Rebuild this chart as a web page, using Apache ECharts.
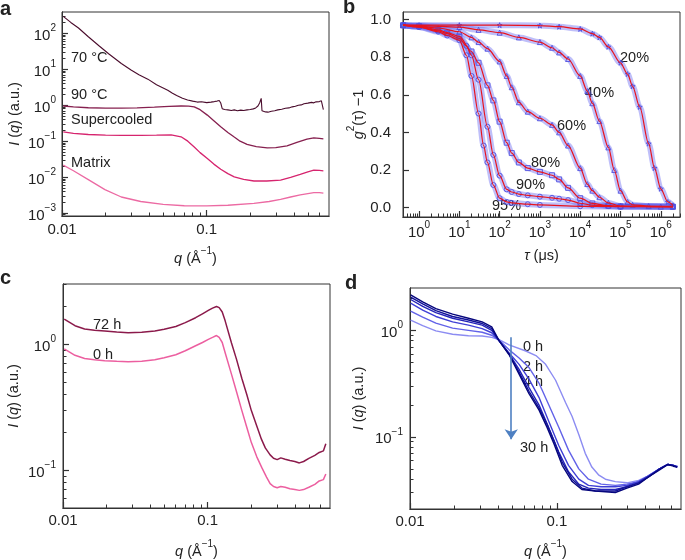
<!DOCTYPE html>
<html>
<head>
<meta charset="utf-8">
<script src="https://cdn.jsdelivr.net/npm/echarts@6/dist/echarts.min.js"></script>
<style>
  html, body { margin: 0; padding: 0; background: #fff; }
  #chart { width: 685px; height: 560px; }
</style>
</head>
<body>
<div id="chart"></div>
<script>
// ---------- panel a : I(q) of the four states ----------
const aTicksX = [0.01, 0.1];
const aTicksY = [1e-3, 1e-2, 1e-1, 1, 10, 100];
const a70 = [[0.0102,296],[0.0115,200],[0.013,140],[0.0152,80],[0.018,45],[0.021,27],[0.0257,14.4],[0.03,9.5],
  [0.034,7.0],[0.0392,5.3],[0.045,3.7],[0.0538,2.6],[0.058,2.15],[0.062,1.85],[0.068,1.55],[0.0738,1.4],
  [0.08,1.3],[0.086,1.22],[0.092,1.25],[0.1,1.18],[0.107,1.22],[0.113,1.26],[0.118,1.3],[0.122,1.35],
  [0.125,1.15],[0.128,0.8],[0.133,0.76],[0.14,0.74],[0.148,0.71],[0.155,0.74],[0.163,0.7],[0.172,0.73],
  [0.18,0.71],[0.19,0.74],[0.2,0.76],[0.21,0.79],[0.218,0.84],[0.226,0.95],[0.232,1.15],[0.238,1.55],
  [0.241,0.7],[0.245,0.63],[0.255,0.65],[0.265,0.64],[0.28,0.68],[0.295,0.7],[0.31,0.74],[0.33,0.77],
  [0.35,0.82],[0.37,0.84],[0.39,0.9],[0.41,0.93],[0.43,1.0],[0.45,1.02],[0.47,1.1],[0.5,1.14],
  [0.53,1.2],[0.55,1.16],[0.57,1.24],[0.6,1.26],[0.62,1.32],[0.635,1.3],[0.64,0.75]];
const a90 = [[0.0102,0.95],[0.012,0.9],[0.0152,0.85],[0.02,0.83],[0.0257,0.83],[0.033,0.84],[0.0435,0.88],
  [0.055,0.93],[0.0665,0.95],[0.075,0.94],[0.082,0.9],[0.09,0.75],[0.101,0.53],[0.112,0.37],[0.125,0.25],
  [0.14,0.175],[0.155,0.13],[0.17,0.1],[0.19,0.081],[0.22,0.07],[0.262,0.065],[0.3,0.066],[0.359,0.074],
  [0.42,0.092],[0.493,0.114],[0.55,0.123],[0.6,0.12],[0.64,0.116]];
const aSuper = [[0.0102,0.18],[0.012,0.165],[0.0152,0.153],[0.02,0.147],[0.0257,0.145],[0.035,0.145],
  [0.045,0.147],[0.0568,0.15],[0.0665,0.132],[0.074,0.1],[0.082,0.069],[0.09,0.048],[0.101,0.033],
  [0.112,0.023],[0.125,0.0166],[0.14,0.0125],[0.155,0.0102],[0.18,0.0086],[0.212,0.0078],[0.26,0.0078],
  [0.324,0.0083],[0.38,0.0098],[0.443,0.0119],[0.5,0.014],[0.55,0.0156],[0.6,0.0155],[0.64,0.015]];
const aMatrix = [[0.0102,0.0215],[0.012,0.015],[0.0152,0.0085],[0.0198,0.0045],[0.0257,0.0028],[0.035,0.0021],
  [0.05,0.00175],[0.07,0.0016],[0.1,0.00158],[0.14,0.00165],[0.212,0.00186],[0.27,0.0021],[0.324,0.0024],
  [0.38,0.0028],[0.443,0.0032],[0.5,0.0035],[0.55,0.0037],[0.6,0.0037],[0.64,0.0036]];

// ---------- panel b : g2(tau)-1 ----------
const bTicksX = [1, 10, 100, 1e3, 1e4, 1e5, 1e6];
const bTicksY = [0, 0.2, 0.4, 0.6, 0.8, 1.0];
const b20 = [[0.4,0.97],[1,0.97],[10,0.97],[100,0.97],[1e3,0.968],[3e3,0.962],[1e4,0.95],[2e4,0.925],[3e4,0.905],
  [5e4,0.855],[1e5,0.77],[1.5e5,0.71],[2e5,0.645],[3e5,0.535],[5e5,0.34],[7e5,0.21],[1e6,0.1],[1.5e6,0.03],[2e6,0.012]];
const b40 = [[0.4,0.97],[1,0.968],[10,0.96],[30,0.945],[100,0.93],[300,0.905],[1e3,0.88],[2e3,0.85],[3e3,0.825],
  [5e3,0.79],[1e4,0.7],[1.5e4,0.62],[2e4,0.555],[3e4,0.46],[5e4,0.32],[7e4,0.2],[1e5,0.09],[1.5e5,0.03],
  [2e5,0.015],[5e5,0.008],[2e6,0.006]];
const b60 = [[0.4,0.97],[1,0.965],[3,0.955],[10,0.935],[20,0.905],[30,0.88],[50,0.845],[100,0.777],[150,0.7],
  [200,0.64],[300,0.56],[500,0.51],[1e3,0.475],[2e3,0.44],[3e3,0.4],[5e3,0.33],[1e4,0.21],[1.5e4,0.125],
  [2e4,0.09],[3e4,0.055],[5e4,0.025],[1e5,0.008],[1e6,0.005],[2e6,0.005]];
const b80 = [[0.4,0.97],[1,0.965],[3,0.945],[5,0.93],[10,0.91],[20,0.83],[30,0.77],[50,0.65],[70,0.57],[100,0.457],
  [150,0.345],[200,0.29],[300,0.24],[500,0.21],[1e3,0.19],[2e3,0.172],[3e3,0.15],[5e3,0.105],[1e4,0.05],
  [2e4,0.022],[5e4,0.01],[1e5,0.006],[2e6,0.005]];
const b90 = [[0.4,0.97],[1,0.96],[3,0.94],[5,0.925],[10,0.9],[15,0.86],[20,0.81],[30,0.68],[50,0.43],[70,0.28],
  [100,0.17],[150,0.097],[200,0.083],[300,0.072],[500,0.065],[1e3,0.058],[2e3,0.052],[3e3,0.047],[5e3,0.04],
  [1e4,0.023],[2e4,0.013],[5e4,0.008],[1e5,0.006],[2e6,0.005]];
const b95 = [[0.4,0.97],[1,0.96],[3,0.935],[5,0.915],[10,0.89],[15,0.81],[20,0.7],[30,0.5],[40,0.33],[50,0.24],
  [70,0.12],[100,0.05],[150,0.03],[200,0.025],[500,0.018],[1e3,0.014],[1e4,0.007],[1e5,0.005],[2e6,0.005]];

// ---------- panel c : ageing ----------
const cTicksX = [0.01, 0.1];
const cTicksY = [0.1, 1];
const c72 = [[0.0102,1.58],[0.0121,1.4],[0.0141,1.32],[0.0165,1.29],[0.0194,1.27],[0.0235,1.245],[0.0282,1.23],
  [0.035,1.24],[0.0431,1.27],[0.05,1.31],[0.0602,1.38],[0.07,1.48],[0.0825,1.62],[0.092,1.74],[0.101,1.85],
  [0.108,1.93],[0.115,1.99],[0.12,1.95],[0.126,1.8],[0.132,1.53],[0.146,1.02],[0.158,0.76],[0.172,0.535],
  [0.186,0.4],[0.2,0.298],[0.218,0.225],[0.235,0.176],[0.25,0.15],[0.27,0.132],[0.285,0.124],[0.302,0.121],
  [0.32,0.125],[0.343,0.122],[0.37,0.119],[0.4,0.117],[0.43,0.114],[0.46,0.117],[0.5,0.124],[0.55,0.131],
  [0.59,0.138],[0.63,0.142],[0.65,0.146],[0.655,0.162]];
const c0 = [[0.0102,0.916],[0.0121,0.815],[0.0141,0.769],[0.0165,0.75],[0.0194,0.738],[0.0235,0.73],[0.0282,0.725],
  [0.035,0.73],[0.0431,0.75],[0.05,0.78],[0.0602,0.824],[0.07,0.885],[0.0825,0.97],[0.092,1.03],[0.101,1.09],
  [0.108,1.13],[0.115,1.17],[0.12,1.13],[0.126,1.03],[0.132,0.854],[0.1466,0.567],[0.158,0.42],[0.172,0.298],
  [0.186,0.22],[0.2,0.166],[0.218,0.128],[0.237,0.104],[0.255,0.088],[0.27,0.078],[0.285,0.074],[0.302,0.0725],
  [0.32,0.074],[0.343,0.073],[0.37,0.071],[0.4,0.07],[0.43,0.069],[0.46,0.07],[0.5,0.073],[0.55,0.077],
  [0.59,0.082],[0.63,0.084],[0.65,0.086],[0.655,0.093]];

// ---------- panel d : 0 h ... 30 h ----------
const dTicksX = [0.01, 0.1];
const dTicksY = [0.1, 1];
const d0h = [[0.0101,1.25],[0.0122,1.11],[0.015,0.99],[0.0195,0.92],[0.025,0.89],[0.031,0.885],[0.036,0.86],
  [0.0404,0.82],[0.0473,0.73],[0.0614,0.64],[0.072,0.58],[0.0838,0.48],[0.098,0.34],[0.1145,0.21],[0.127,0.155],
  [0.141,0.105],[0.156,0.07],[0.173,0.052],[0.192,0.044],[0.214,0.04],[0.25,0.038],[0.3,0.037],[0.36,0.039],
  [0.42,0.043],[0.5,0.05],[0.57,0.055],[0.62,0.054],[0.66,0.053]];
const d2h = [[0.0101,1.52],[0.0122,1.33],[0.015,1.17],[0.0195,1.05],[0.025,1.0],[0.031,0.96],[0.036,0.9],
  [0.0404,0.81],[0.0473,0.656],[0.0553,0.551],[0.0646,0.447],[0.0755,0.32],[0.088,0.2],[0.103,0.123],[0.12,0.075],
  [0.141,0.05],[0.164,0.04],[0.2,0.036],[0.25,0.035],[0.3,0.036],[0.36,0.038],[0.42,0.043],[0.5,0.05],
  [0.57,0.055],[0.62,0.054],[0.66,0.053]];
const d4h = [[0.0101,1.8],[0.0122,1.55],[0.015,1.35],[0.0195,1.2],[0.025,1.12],[0.031,1.04],[0.036,0.95],
  [0.0404,0.8],[0.0473,0.612],[0.0553,0.479],[0.0646,0.349],[0.0755,0.235],[0.088,0.14],[0.103,0.083],[0.12,0.054],
  [0.141,0.04],[0.164,0.035],[0.2,0.034],[0.25,0.034],[0.3,0.035],[0.36,0.038],[0.42,0.043],[0.5,0.05],
  [0.57,0.055],[0.62,0.054],[0.66,0.052]];
const d8h = [[0.0101,1.95],[0.0122,1.68],[0.015,1.47],[0.0195,1.3],[0.025,1.2],[0.031,1.12],[0.036,1.0],
  [0.0404,0.8],[0.0473,0.6],[0.0553,0.43],[0.0646,0.29],[0.0755,0.2],[0.088,0.122],[0.103,0.072],[0.12,0.047],
  [0.141,0.036],[0.164,0.033],[0.2,0.032],[0.25,0.032],[0.3,0.034],[0.36,0.037],[0.42,0.042],[0.5,0.05],
  [0.57,0.055],[0.62,0.054],[0.66,0.052]];
const d16h = [[0.0101,2.05],[0.0122,1.77],[0.015,1.53],[0.0195,1.35],[0.025,1.25],[0.031,1.16],[0.036,1.04],
  [0.0404,0.8],[0.0473,0.6],[0.0553,0.405],[0.0646,0.268],[0.0755,0.188],[0.0859,0.13],[0.0955,0.092],
  [0.1087,0.058],[0.127,0.04],[0.148,0.033],[0.183,0.031],[0.25,0.031],[0.3,0.034],[0.36,0.037],[0.42,0.042],
  [0.5,0.05],[0.57,0.055],[0.62,0.054],[0.66,0.052]];
const d30h = [[0.0101,2.15],[0.0122,1.85],[0.015,1.6],[0.0195,1.42],[0.025,1.3],[0.031,1.2],[0.036,1.08],
  [0.0404,0.8],[0.0473,0.59],[0.0553,0.388],[0.0646,0.254],[0.0755,0.179],[0.0859,0.122],[0.0955,0.086],
  [0.1087,0.054],[0.127,0.038],[0.148,0.032],[0.183,0.031],[0.25,0.03],[0.3,0.033],[0.36,0.036],[0.42,0.042],
  [0.5,0.049],[0.57,0.055],[0.62,0.053],[0.66,0.052]];
const dArrow = [[0.0489, 0.86], [0.0489, 0.095]];

// ---------- helpers ----------
const L = Math.log10;
const FONT = "'Liberation Sans', Arial, Helvetica, sans-serif";
const INK = '#222';
const AX = '#333';

function rich(size) {
  return {
    b: { fontSize: size, lineHeight: 20, verticalAlign: 'bottom', fontFamily: FONT, color: INK },
    i: { fontSize: size, lineHeight: 20, verticalAlign: 'bottom', fontFamily: FONT, color: INK, fontStyle: 'italic' },
    s: { fontSize: Math.round(size * 0.68), lineHeight: 8, verticalAlign: 'top', fontFamily: FONT, color: INK }
  };
}
const sgn = e => (e < 0 ? '−' + (-e) : String(e));
const expFmt = v => '{b|10}{s|' + sgn(Math.round(v)) + '}';
const decFmt = v => { const e = Math.round(v); return e < 0 ? Math.pow(10, e).toFixed(-e) : String(Math.pow(10, e)); };

// minor ticks at 2..9 x 10^n inside [lo, hi]
function minors(lo, hi) {
  const out = [];
  for (let e = Math.floor(L(lo)); e <= Math.ceil(L(hi)); e++) {
    for (let m = 2; m <= 9; m++) {
      const v = m * Math.pow(10, e);
      if (v >= lo && v <= hi) out.push(L(v));
    }
  }
  return out;
}

const xAxes = [];
const yAxes = [];
function addAxis(list, dim, o) {
  const idx = list.length;
  const pos = dim === 'x' ? 'bottom' : 'left';
  list.push({
    type: 'value', gridIndex: o.grid, position: pos, min: o.lo, max: o.hi,
    axisLine: { show: true, onZero: false, lineStyle: { color: AX, width: 1 } },
    axisTick: { show: true, inside: true, length: 6, customValues: o.majors, lineStyle: { color: AX, width: 1.2 } },
    axisLabel: { show: true, customValues: o.majors, formatter: o.fmt, margin: o.margin,
      fontSize: 15, fontFamily: FONT, color: INK, rich: rich(15) },
    splitLine: { show: false },
    name: o.name, nameLocation: 'middle', nameGap: o.gap, nameRotate: dim === 'x' ? 0 : 90,
    nameTextStyle: { fontSize: 14.5, fontFamily: FONT, color: INK, rich: rich(14.5) }
  });
  if (o.minor) {
    list.push({
      type: 'value', gridIndex: o.grid, position: pos, min: o.lo, max: o.hi,
      axisLine: { show: true, onZero: false, lineStyle: { color: AX, width: 1 } },
      axisTick: { show: true, inside: true, length: 3.5, customValues: o.minor, lineStyle: { color: AX, width: 1 } },
      axisLabel: { show: false }, splitLine: { show: false }
    });
  }
  return idx;
}

const qName = '{i|q}{b| (Å}{s|−1}{b|)}';
const iName = '{i|I}{b| (}{i|q}{b|) (a.u.)}';

// grids (pixel boxes)
const grids = [
  { left: 62, top: 12, width: 267, height: 204 },
  { left: 403, top: 12, width: 277, height: 205 },
  { left: 63, top: 284, width: 267, height: 232 },
  { left: 410, top: 288, width: 271, height: 228 }
].map(g => Object.assign(g, { show: true, borderColor: AX, borderWidth: 1 }));

// axes
const axA = addAxis(xAxes, 'x', { grid: 0, lo: L(0.01), hi: L(0.7), majors: aTicksX.map(L), minor: minors(0.01, 0.7),
  fmt: decFmt, margin: 6, name: qName, gap: 30 });
const ayA = addAxis(yAxes, 'y', { grid: 0, lo: L(8.3e-4), hi: L(390), majors: aTicksY.map(L), minor: minors(8.3e-4, 390),
  fmt: expFmt, margin: 6, name: iName, gap: 40 });
const axB = addAxis(xAxes, 'x', { grid: 1, lo: L(0.4), hi: L(3e6), majors: bTicksX.map(L), minor: minors(0.4, 3e6),
  fmt: expFmt, margin: 3, name: '{i|τ}{b| (μs)}', gap: 26 });
const ayB = addAxis(yAxes, 'y', { grid: 1, lo: -0.05, hi: 1.04, majors: bTicksY, minor: null,
  fmt: v => v.toFixed(1), margin: 12, name: '{i|g}{s|2}{b|(τ) −1}', gap: 30 });
const axC = addAxis(xAxes, 'x', { grid: 2, lo: L(0.01), hi: L(0.7), majors: cTicksX.map(L), minor: minors(0.01, 0.7),
  fmt: decFmt, margin: 5, name: qName, gap: 31 });
const ayC = addAxis(yAxes, 'y', { grid: 2, lo: L(0.05), hi: L(3), majors: cTicksY.map(L), minor: minors(0.05, 3),
  fmt: expFmt, margin: 7, name: iName, gap: 42 });
const axD = addAxis(xAxes, 'x', { grid: 3, lo: L(0.01), hi: L(0.7), majors: dTicksX.map(L), minor: minors(0.01, 0.7),
  fmt: decFmt, margin: 5, name: qName, gap: 30 });
const ayD = addAxis(yAxes, 'y', { grid: 3, lo: L(0.021), hi: L(2.5), majors: dTicksY.map(L), minor: minors(0.021, 2.5),
  fmt: expFmt, margin: 7, name: iName, gap: 44 });

const logLog = pts => pts.map(p => [L(p[0]), L(p[1])]);
const logLin = pts => pts.map(p => [L(p[0]), p[1]]);

function curve(xi, yi, data, color, width, extra) {
  return Object.assign({
    type: 'line', xAxisIndex: xi, yAxisIndex: yi, data, symbol: 'none',
    lineStyle: { color, width }, silent: true, z: 3
  }, extra || {});
}

const series = [];
// a
series.push(curve(axA, ayA, logLog(aMatrix), '#ec6aa3', 1.3));
series.push(curve(axA, ayA, logLog(aSuper), '#d6246e', 1.3));
series.push(curve(axA, ayA, logLog(a90), '#86204f', 1.3));
series.push(curve(axA, ayA, logLog(a70), '#4a0c2c', 1.1));

// b : blue measured markers, red fits on top
const star = 'path://M5,0L6.2,3.7L10,3.8L7,6.1L8.1,10L5,7.7L1.9,10L3,6.1L0,3.8L3.8,3.7Z';
const bSets = [[b20, star], [b40, 'triangle'], [b60, 'triangle'], [b80, 'rect'], [b90, 'circle'], [b95, 'circle']];
bSets.forEach(([d, sym]) => {
  series.push({
    type: 'line', xAxisIndex: axB, yAxisIndex: ayB, data: logLin(d), symbol: sym, symbolSize: 5, showSymbol: true,
    smooth: 0.3, smoothMonotone: 'x', silent: true, z: 2,
    lineStyle: { color: 'rgba(95,95,240,0.4)', width: 6 },
    itemStyle: { color: 'rgba(0,0,0,0)', borderColor: '#5050e0', borderWidth: 0.9 }
  });
});
bSets.forEach(([d]) => {
  series.push(curve(axB, ayB, logLin(d), '#e8141e', 1.2, { smooth: 0.3, smoothMonotone: 'x', z: 4 }));
});

// c
series.push(curve(axC, ayC, logLog(c0), '#ec5fa0', 1.5));
series.push(curve(axC, ayC, logLog(c72), '#8b1a4b', 1.5));

// d
const dSets = [[d0h, '#8c8cf2'], [d2h, '#6262e8'], [d4h, '#3f3fd6'], [d8h, '#2424b8'], [d16h, '#12129a'], [d30h, '#06067c']];
dSets.forEach(([d, col]) => series.push(curve(axD, ayD, logLog(d), col, 1.4)));
series[series.length - 1].markLine = {
  silent: true, symbol: ['none', 'arrow'], symbolSize: 10,
  lineStyle: { color: '#4e80c2', width: 1.6, type: 'solid' }, label: { show: false },
  data: [[{ coord: [L(dArrow[0][0]), L(dArrow[0][1])] }, { coord: [L(dArrow[1][0]), L(dArrow[1][1])] }]]
};

// text annotations
const txt = (x, y, s, size, bold) => ({
  type: 'text', left: x, top: y, silent: true,
  style: { text: s, fill: INK, font: (bold ? 'bold ' : '') + size + 'px ' + FONT }
});
const graphic = [
  txt(0, -1, 'a', 20, true), txt(343, -3, 'b', 20, true), txt(0, 268, 'c', 20, true), txt(345, 273, 'd', 20, true),
  txt(71, 50, '70 °C', 14.5), txt(71, 87, '90 °C', 14.5), txt(71, 112, 'Supercooled', 14.5), txt(71, 155, 'Matrix', 14.5),
  txt(620, 50, '20%', 14.5), txt(585, 85, '40%', 14.5), txt(557, 118, '60%', 14.5), txt(531, 155, '80%', 14.5),
  txt(516, 177, '90%', 14.5), txt(492, 198, '95%', 14.5),
  txt(93, 317, '72 h', 14.5), txt(93, 347, '0 h', 14.5),
  txt(523, 339, '0 h', 14.5), txt(523, 359, '2 h', 14.5), txt(523, 374, '4 h', 14.5), txt(520, 440, '30 h', 14.5)
];

const chart = echarts.init(document.getElementById('chart'), null, { renderer: 'canvas' });
chart.setOption({
  animation: false,
  backgroundColor: '#fff',
  grid: grids,
  xAxis: xAxes,
  yAxis: yAxes,
  series,
  graphic
});
</script>
</body>
</html>
